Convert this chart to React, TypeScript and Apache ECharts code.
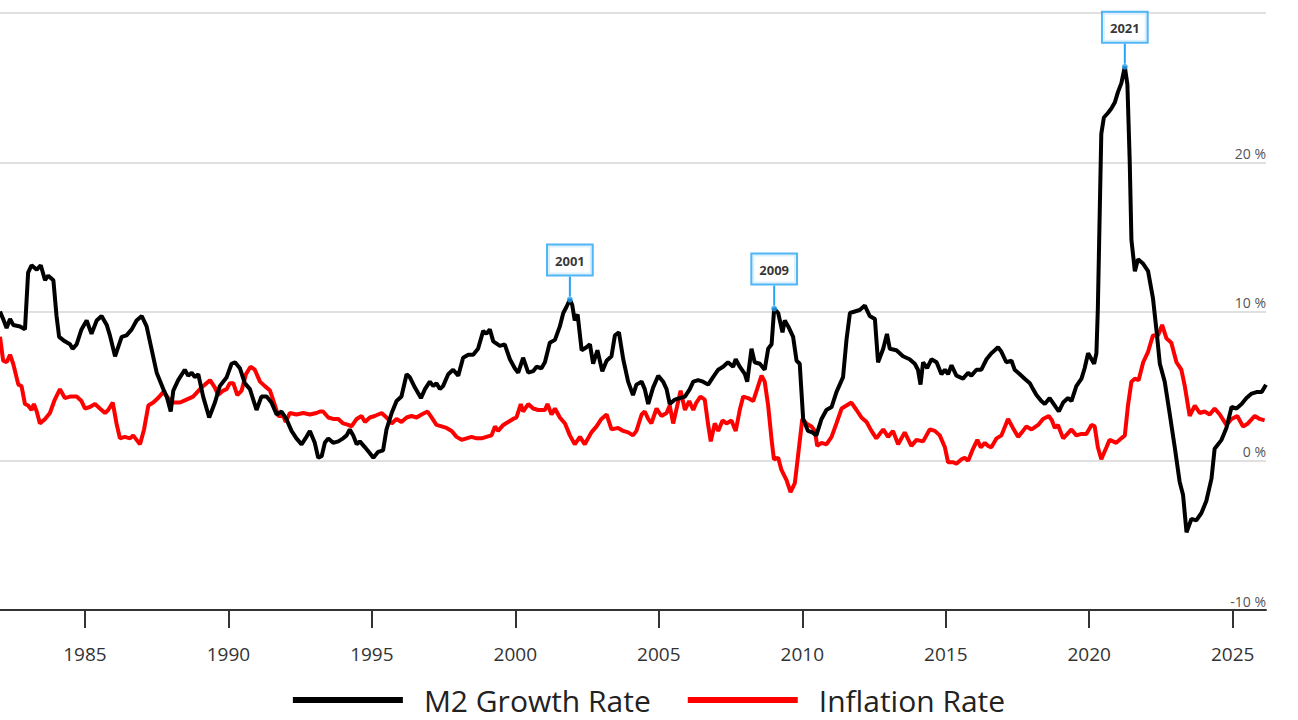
import React, { useEffect, useRef } from "react";
import * as echarts from "echarts";

const m2Data: [number, number][] = [
  [1982.04, 10.0], [1982.15, 9.5], [1982.27, 8.9], [1982.39, 9.5], [1982.5, 9.1], [1982.74, 9.0], [1982.91, 8.8],
  [1983.02, 12.6], [1983.14, 13.1], [1983.32, 12.8], [1983.46, 13.1], [1983.61, 12.1], [1983.72, 12.4], [1983.9, 12.1],
  [1984.01, 9.7], [1984.1, 8.3], [1984.3, 8.0], [1984.48, 7.8], [1984.57, 7.5], [1984.71, 7.8], [1984.88, 8.8],
  [1985.06, 9.4], [1985.23, 8.5], [1985.41, 9.4], [1985.58, 9.7], [1985.76, 9.1], [1985.87, 8.4], [1986.05, 7.0],
  [1986.28, 8.3], [1986.45, 8.4], [1986.63, 8.8], [1986.8, 9.4], [1986.98, 9.7], [1987.15, 9.0], [1987.32, 7.5],
  [1987.5, 5.9], [1987.73, 4.8], [1987.85, 4.3], [1987.99, 3.3], [1988.08, 4.7], [1988.25, 5.4], [1988.48, 6.1],
  [1988.6, 5.7], [1988.72, 5.9], [1988.83, 5.6], [1988.95, 5.8], [1989.12, 4.3], [1989.33, 2.9], [1989.53, 3.9],
  [1989.7, 5.0], [1989.94, 5.6], [1990.11, 6.5], [1990.23, 6.6], [1990.4, 6.2], [1990.57, 5.2], [1990.75, 4.8],
  [1990.98, 3.4], [1991.15, 4.3], [1991.33, 4.3], [1991.5, 3.9], [1991.68, 3.1], [1991.85, 3.3], [1992.02, 2.8],
  [1992.2, 2.0], [1992.37, 1.5], [1992.55, 1.1], [1992.72, 1.6], [1992.84, 2.0], [1993.01, 1.2], [1993.13, 0.2],
  [1993.25, 0.3], [1993.36, 1.2], [1993.48, 1.5], [1993.65, 1.2], [1993.83, 1.3], [1994.0, 1.5], [1994.12, 1.7],
  [1994.23, 2.1], [1994.35, 1.7], [1994.47, 1.1], [1994.58, 1.3], [1994.76, 0.9], [1994.93, 0.5], [1995.05, 0.2],
  [1995.22, 0.6], [1995.39, 0.7], [1995.51, 2.1], [1995.69, 3.2], [1995.86, 4.0], [1996.03, 4.3], [1996.21, 5.8],
  [1996.32, 5.6], [1996.5, 4.9], [1996.71, 4.2], [1996.85, 4.8], [1997.02, 5.3], [1997.14, 5.0], [1997.25, 5.2],
  [1997.37, 4.8], [1997.48, 5.0], [1997.66, 5.8], [1997.83, 6.1], [1998.01, 5.7], [1998.18, 6.9], [1998.36, 7.1],
  [1998.53, 7.1], [1998.7, 7.5], [1998.88, 8.7], [1998.99, 8.5], [1999.11, 8.8], [1999.23, 8.0], [1999.46, 7.7],
  [1999.63, 7.8], [1999.81, 6.8], [1999.98, 6.2], [2000.1, 5.9], [2000.27, 6.9], [2000.45, 5.9], [2000.62, 6.0],
  [2000.74, 6.3], [2000.91, 6.2], [2001.03, 6.6], [2001.2, 7.9], [2001.38, 8.1], [2001.55, 9.0], [2001.67, 9.9],
  [2001.78, 10.3], [2001.9, 10.8], [2001.98, 10.45], [2002.07, 9.4], [2002.17, 9.8], [2002.31, 7.4], [2002.48, 7.6],
  [2002.6, 7.8], [2002.71, 6.5], [2002.86, 7.4], [2003.03, 6.0], [2003.18, 6.7], [2003.35, 7.0], [2003.47, 8.4],
  [2003.61, 8.6], [2003.76, 6.8], [2003.93, 5.3], [2004.1, 4.4], [2004.22, 5.1], [2004.4, 5.3], [2004.51, 4.8],
  [2004.63, 3.8], [2004.8, 4.9], [2004.98, 5.7], [2005.15, 5.3], [2005.27, 4.8], [2005.38, 3.8], [2005.56, 4.1],
  [2005.73, 4.2], [2005.91, 4.3], [2006.08, 4.8], [2006.2, 5.3], [2006.37, 5.4], [2006.54, 5.3], [2006.72, 5.1],
  [2006.89, 5.6], [2007.07, 6.1], [2007.24, 6.3], [2007.41, 6.6], [2007.59, 6.3], [2007.68, 6.8], [2007.82, 6.3],
  [2008.0, 5.8], [2008.08, 5.3], [2008.23, 7.5], [2008.34, 6.6], [2008.52, 6.5], [2008.69, 6.1], [2008.81, 7.5],
  [2008.93, 7.8], [2009.02, 10.2], [2009.16, 9.9], [2009.31, 8.6], [2009.39, 9.4], [2009.51, 9.0], [2009.68, 8.3],
  [2009.8, 6.7], [2009.91, 6.5], [2010.03, 2.8], [2010.2, 2.0], [2010.35, 1.9], [2010.49, 1.7], [2010.67, 2.8],
  [2010.84, 3.4], [2011.02, 3.6], [2011.19, 4.6], [2011.42, 5.6], [2011.54, 8.1], [2011.66, 9.9], [2011.83, 10.0],
  [2012.0, 10.1], [2012.18, 10.4], [2012.35, 9.7], [2012.53, 9.5], [2012.64, 6.6], [2012.82, 7.5], [2012.95, 8.5],
  [2013.05, 7.5], [2013.28, 7.4], [2013.51, 7.0], [2013.74, 6.8], [2013.92, 6.5], [2014.03, 6.1], [2014.12, 5.1],
  [2014.21, 6.6], [2014.35, 6.2], [2014.5, 6.8], [2014.68, 6.6], [2014.85, 5.8], [2014.97, 6.1], [2015.08, 5.8],
  [2015.2, 6.4], [2015.37, 5.7], [2015.6, 5.5], [2015.78, 5.9], [2015.89, 5.7], [2016.07, 6.1], [2016.24, 6.1],
  [2016.42, 6.8], [2016.59, 7.2], [2016.71, 7.4], [2016.82, 7.6], [2016.94, 7.3], [2017.11, 6.6], [2017.29, 6.7],
  [2017.4, 6.1], [2017.58, 5.8], [2017.75, 5.5], [2017.93, 5.2], [2018.04, 4.8], [2018.16, 4.4], [2018.33, 4.0],
  [2018.45, 3.8], [2018.62, 4.2], [2018.8, 3.7], [2018.94, 3.3], [2019.09, 3.9], [2019.26, 4.2], [2019.38, 4.0],
  [2019.55, 5.0], [2019.73, 5.5], [2019.84, 6.2], [2019.96, 7.2], [2020.08, 6.8], [2020.17, 6.5], [2020.25, 7.2],
  [2020.3, 10.2], [2020.37, 17.1], [2020.42, 21.9], [2020.51, 23.0], [2020.65, 23.3], [2020.77, 23.6], [2020.89, 24.0],
  [2021.0, 24.7], [2021.12, 25.3], [2021.24, 26.4], [2021.33, 25.2], [2021.41, 20.1], [2021.47, 14.8], [2021.59, 12.7],
  [2021.7, 13.5], [2021.88, 13.2], [2022.05, 12.7], [2022.22, 10.9], [2022.34, 8.8], [2022.46, 6.5], [2022.63, 5.3],
  [2022.8, 3.2], [2022.98, 0.9], [2023.15, -1.4], [2023.27, -2.3], [2023.39, -4.8], [2023.56, -3.9], [2023.73, -4.0],
  [2023.91, -3.5], [2024.08, -2.7], [2024.26, -1.2], [2024.37, 0.8], [2024.61, 1.4], [2024.78, 2.2], [2024.96, 3.6],
  [2025.13, 3.5], [2025.31, 3.8], [2025.48, 4.2], [2025.66, 4.5], [2025.83, 4.6], [2026.01, 4.6], [2026.16, 5.1],
];

const inflationData: [number, number][] = [
  [1982.04, 8.3], [1982.15, 6.7], [1982.27, 6.6], [1982.39, 7.1], [1982.5, 6.5], [1982.68, 5.1], [1982.79, 5.0],
  [1982.91, 3.8], [1983.02, 3.7], [1983.14, 3.4], [1983.22, 3.8], [1983.32, 3.3], [1983.43, 2.5], [1983.61, 2.8],
  [1983.78, 3.2], [1983.95, 4.1], [1984.13, 4.8], [1984.3, 4.2], [1984.48, 4.3], [1984.71, 4.3], [1984.88, 4.0],
  [1985.0, 3.5], [1985.17, 3.6], [1985.35, 3.8], [1985.52, 3.5], [1985.7, 3.2], [1985.81, 3.4], [1985.97, 3.9],
  [1986.1, 2.5], [1986.22, 1.5], [1986.39, 1.6], [1986.57, 1.5], [1986.68, 1.7], [1986.8, 1.4], [1986.92, 1.1],
  [1987.06, 2.1], [1987.21, 3.7], [1987.38, 3.9], [1987.55, 4.2], [1987.73, 4.6], [1987.9, 4.2], [1988.08, 3.9],
  [1988.31, 3.9], [1988.54, 4.1], [1988.77, 4.3], [1989.01, 4.8], [1989.18, 5.1], [1989.36, 5.4], [1989.53, 4.9],
  [1989.64, 4.4], [1989.82, 4.7], [1989.94, 4.8], [1990.05, 5.2], [1990.17, 5.2], [1990.31, 4.4], [1990.46, 4.7],
  [1990.61, 5.8], [1990.77, 6.3], [1990.92, 6.1], [1991.1, 5.3], [1991.27, 5.0], [1991.45, 4.7], [1991.59, 3.9],
  [1991.74, 3.0], [1991.91, 3.0], [1992.0, 2.6], [1992.14, 3.2], [1992.37, 3.1], [1992.61, 3.2], [1992.84, 3.1],
  [1993.07, 3.2], [1993.19, 3.3], [1993.3, 3.3], [1993.48, 2.9], [1993.65, 2.8], [1993.83, 2.8], [1994.0, 2.5],
  [1994.18, 2.4], [1994.29, 2.3], [1994.47, 2.8], [1994.64, 3.0], [1994.76, 2.6], [1994.93, 2.9], [1995.1, 3.0],
  [1995.34, 3.2], [1995.51, 2.9], [1995.69, 2.5], [1995.86, 2.8], [1996.03, 2.6], [1996.21, 2.9], [1996.38, 3.0],
  [1996.56, 2.9], [1996.73, 3.1], [1996.94, 3.3], [1997.08, 2.9], [1997.25, 2.4], [1997.43, 2.3], [1997.6, 2.2],
  [1997.78, 2.0], [1997.95, 1.6], [1998.13, 1.4], [1998.3, 1.5], [1998.47, 1.6], [1998.65, 1.5], [1998.82, 1.5],
  [1998.99, 1.6], [1999.17, 1.7], [1999.29, 2.3], [1999.4, 2.0], [1999.58, 2.4], [1999.75, 2.6], [1999.92, 2.8],
  [2000.04, 2.9], [2000.19, 3.8], [2000.27, 3.3], [2000.45, 3.8], [2000.62, 3.5], [2000.8, 3.4], [2001.03, 3.4],
  [2001.12, 3.8], [2001.26, 3.1], [2001.38, 3.5], [2001.55, 2.9], [2001.73, 2.5], [2001.9, 1.7], [2002.07, 1.1],
  [2002.25, 1.6], [2002.42, 1.1], [2002.65, 1.9], [2002.83, 2.3], [2003.0, 2.8], [2003.18, 3.1], [2003.35, 2.1],
  [2003.58, 2.2], [2003.76, 2.0], [2003.93, 1.9], [2004.1, 1.7], [2004.22, 2.0], [2004.4, 3.1], [2004.51, 3.3],
  [2004.63, 2.8], [2004.74, 2.5], [2004.92, 3.5], [2005.09, 3.0], [2005.27, 3.2], [2005.38, 3.7], [2005.5, 2.5],
  [2005.62, 3.5], [2005.76, 4.7], [2005.91, 3.4], [2006.06, 4.0], [2006.2, 3.4], [2006.31, 3.9], [2006.45, 4.3],
  [2006.6, 4.1], [2006.72, 2.4], [2006.81, 1.3], [2006.95, 2.5], [2007.07, 2.0], [2007.22, 2.7], [2007.36, 2.5],
  [2007.53, 2.7], [2007.68, 2.0], [2007.82, 3.4], [2007.94, 4.3], [2008.11, 4.2], [2008.29, 4.0], [2008.46, 5.0],
  [2008.58, 5.7], [2008.69, 5.3], [2008.81, 3.7], [2008.93, 1.4], [2009.01, 0.1], [2009.16, 0.2], [2009.27, -0.6],
  [2009.45, -1.3], [2009.59, -2.1], [2009.74, -1.5], [2009.85, 0.3], [2010.0, 2.8], [2010.14, 2.5], [2010.32, 2.3],
  [2010.44, 2.0], [2010.52, 1.0], [2010.67, 1.2], [2010.84, 1.1], [2011.02, 1.6], [2011.19, 2.5], [2011.37, 3.5],
  [2011.54, 3.7], [2011.71, 3.9], [2011.89, 3.4], [2012.06, 2.9], [2012.24, 2.6], [2012.41, 2.0], [2012.58, 1.5],
  [2012.82, 2.1], [2012.99, 1.6], [2013.16, 2.0], [2013.34, 1.1], [2013.57, 1.9], [2013.8, 1.0], [2013.98, 1.4],
  [2014.21, 1.3], [2014.44, 2.1], [2014.62, 2.0], [2014.79, 1.7], [2014.97, 0.9], [2015.08, -0.1], [2015.26, -0.1],
  [2015.37, -0.2], [2015.55, 0.1], [2015.66, 0.2], [2015.78, 0.0], [2015.95, 0.8], [2016.1, 1.4], [2016.22, 0.9],
  [2016.36, 1.2], [2016.47, 1.0], [2016.59, 0.9], [2016.77, 1.5], [2016.94, 1.7], [2017.17, 2.8], [2017.34, 2.2],
  [2017.52, 1.6], [2017.69, 2.0], [2017.81, 2.3], [2017.99, 2.1], [2018.22, 2.4], [2018.39, 2.8], [2018.59, 3.0],
  [2018.7, 2.7], [2018.8, 2.2], [2018.91, 2.4], [2019.09, 1.5], [2019.24, 1.8], [2019.38, 2.1], [2019.55, 1.7],
  [2019.73, 1.8], [2019.9, 1.8], [2020.08, 2.4], [2020.19, 2.3], [2020.3, 0.9], [2020.42, 0.1], [2020.6, 0.9],
  [2020.71, 1.4], [2020.83, 1.3], [2020.94, 1.2], [2021.12, 1.5], [2021.24, 1.7], [2021.35, 3.7], [2021.47, 5.3],
  [2021.59, 5.5], [2021.72, 5.4], [2021.88, 6.6], [2022.05, 7.3], [2022.22, 8.4], [2022.4, 8.4], [2022.54, 9.1],
  [2022.69, 8.2], [2022.86, 7.9], [2023.04, 6.6], [2023.21, 6.1], [2023.33, 5.0], [2023.5, 3.0], [2023.68, 3.7],
  [2023.85, 3.2], [2024.02, 3.3], [2024.2, 3.1], [2024.37, 3.5], [2024.55, 3.1], [2024.78, 2.4], [2024.96, 2.8],
  [2025.16, 3.0], [2025.36, 2.3], [2025.53, 2.5], [2025.77, 3.0], [2025.94, 2.8], [2026.11, 2.7],
];

const annotatedYears = [2001, 2009, 2021];
const xTickYears = [1985, 1990, 1995, 2000, 2005, 2010, 2015, 2020, 2025];
const yLabelValues = [-10, 0, 10, 20];
const seriesNames = ["M2 Growth Rate", "Inflation Rate"];

const FONT = "'Open Sans', 'Noto Sans', sans-serif";
const BLUE = "#27a4f2";

export default function App() {
  const ref = useRef<HTMLDivElement>(null);

  useEffect(() => {
    if (!ref.current) return;
    const chart = echarts.init(ref.current, undefined, { renderer: "svg" });

    const peaks = annotatedYears.map((yr) => {
      const pts = m2Data.filter((p) => p[0] >= yr && p[0] < yr + 1);
      let best = pts[0];
      pts.forEach((p) => {
        if (p[1] > best[1]) best = p;
      });
      return { value: [best[0], best[1]], name: String(yr) };
    });

    chart.setOption({
      animation: false,
      textStyle: { fontFamily: FONT },
      grid: { left: 0, right: 32, top: 13, bottom: 110, containLabel: false },
      legend: {
        data: seriesNames,
        left: "center",
        top: 680,
        icon: "rect",
        itemWidth: 110,
        itemHeight: 6,
        itemGap: 37,
        textStyle: { fontSize: 30, color: "#222", fontFamily: FONT, padding: [0, 0, 0, 16] },
      },
      xAxis: {
        type: "value",
        min: 1982.04,
        max: 2026.16,
        splitLine: { show: false },
        axisLine: { show: true, onZero: false, lineStyle: { color: "#333", width: 2 } },
        axisTick: {
          show: true,
          length: 18,
          customValues: xTickYears,
          lineStyle: { color: "#333", width: 2 },
        },
        axisLabel: {
          customValues: xTickYears,
          formatter: (v: number) => String(Math.round(v)),
          fontSize: 19,
          color: "#333",
          margin: 34,
          fontFamily: FONT,
        },
      },
      yAxis: {
        type: "value",
        position: "right",
        min: -10,
        max: 30,
        interval: 10,
        axisLine: { show: false },
        axisTick: { show: false },
        splitLine: { show: true, lineStyle: { color: "#e0e0e0", width: 2 } },
        axisLabel: {
          inside: true,
          margin: 0,
          customValues: yLabelValues,
          formatter: "{value} %",
          fontSize: 14,
          color: "#555",
          verticalAlign: "bottom",
          padding: [0, 0, 2, 0],
          fontFamily: FONT,
        },
      },
      series: [
        {
          name: seriesNames[0],
          type: "line",
          data: m2Data,
          showSymbol: false,
          z: 3,
          itemStyle: { color: "#000" },
          lineStyle: { color: "#000", width: 4 },
        },
        {
          name: seriesNames[1],
          type: "line",
          data: inflationData,
          showSymbol: false,
          z: 2,
          itemStyle: { color: "#ff0000" },
          lineStyle: { color: "#ff0000", width: 4 },
        },
        {
          name: "peaks",
          type: "scatter",
          data: peaks,
          symbol: "circle",
          symbolSize: 6,
          z: 5,
          itemStyle: { color: BLUE },
          label: {
            show: true,
            position: "top",
            distance: 0,
            formatter: (p: any) => p.name,
            backgroundColor: "#fff",
            borderColor: BLUE,
            borderWidth: 2,
            padding: [9, 7, 7, 7],
            fontSize: 13,
            fontWeight: "bold",
            color: "#000",
            fontFamily: FONT,
          },
          labelLayout: { dy: -22 },
          labelLine: { show: true, lineStyle: { color: BLUE, width: 2 } },
        },
      ],
    });

    return () => chart.dispose();
  }, []);

  return (
    <div
      ref={ref}
      style={{ position: "fixed", left: 0, top: 0, width: 1298, height: 720, background: "#fff" }}
    />
  );
}
